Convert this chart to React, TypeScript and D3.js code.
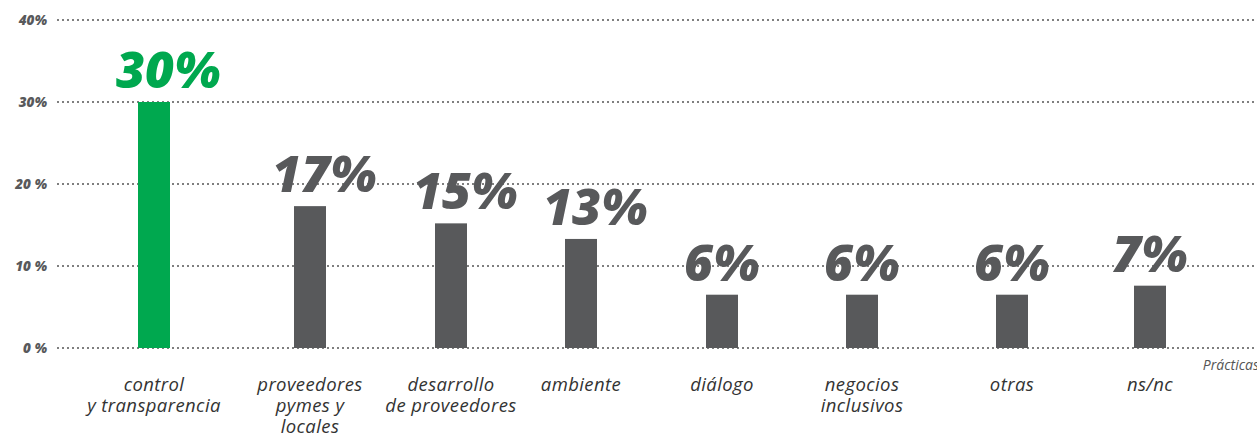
import React from "react";
import * as d3 from "d3";

const categories: string[][] = [
  ["control", "y transparencia"],
  ["proveedores", "pymes y", "locales"],
  ["desarrollo", "de proveedores"],
  ["ambiente"],
  ["diálogo"],
  ["negocios", "inclusivos"],
  ["otras"],
  ["ns/nc"],
];
const values = [30, 17.3, 15.2, 13.3, 6.5, 6.5, 6.5, 7.6];
const valueLabels = ["30%", "17%", "15%", "13%", "6%", "6%", "6%", "7%"];
const highlight = [true, false, false, false, false, false, false, false];
const tickValues = [0, 10, 20, 30, 40];
const tickLabels = ["0 %", "10 %", "20 %", "30%", "40%"];
const barCenters = [154, 310, 451, 581, 722, 862, 1012, 1150];

const W = 1257;
const H = 435;
const GREEN = "#00a84f";
const GRAY = "#58595b";

export default function App() {
  const y = d3.scaleLinear().domain([0, 40]).range([348, 20]);
  const x = d3.scaleOrdinal<number, number>().domain(d3.range(values.length)).range(barCenters);
  const bw = 32;
  return (
    <svg width={W} height={H} style={{ position: "absolute", left: 0, top: 0 }}>
      {tickValues.map((t, i) => (
        <g key={t}>
          <line x1={57} x2={W} y1={y(t)} y2={y(t)} stroke="#555" strokeWidth={1.5} strokeDasharray="2,3" />
          <text x={47} y={y(t) + 5} textAnchor="end" fontFamily="Open Sans" fontWeight={800} fontStyle="italic" fontSize={13.5} fill={GRAY}>
            {tickLabels[i]}
          </text>
        </g>
      ))}
      {values.map((v, i) => (
        <g key={i}>
          <rect x={x(i) - bw / 2} y={y(v)} width={bw} height={y(0) - y(v)} fill={highlight[i] ? GREEN : GRAY} />
          <text x={x(i) - 38} y={y(v) - 14} textAnchor="start" fontFamily="Open Sans" fontWeight={800} fontStyle="italic" fontSize={50} fill={highlight[i] ? GREEN : GRAY}>
            {valueLabels[i]}
          </text>
          <text x={x(i)} y={391} textAnchor="middle" fontFamily="Open Sans" fontStyle="italic" fontSize={18.5} letterSpacing={0.4} fill="#333">
            {categories[i].map((line, j) => (
              <tspan key={j} x={x(i)} dy={j === 0 ? 0 : 21}>
                {line}
              </tspan>
            ))}
          </text>
        </g>
      ))}
      <text x={1259} y={370} textAnchor="end" fontFamily="Open Sans" fontStyle="italic" fontSize={14} fill="#555">Prácticas</text>
    </svg>
  );
}
